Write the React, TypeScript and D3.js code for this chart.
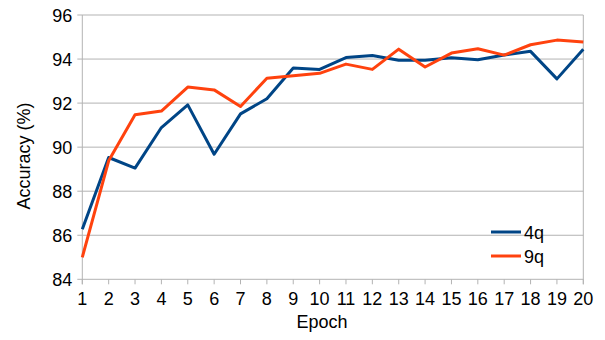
import React, {useEffect, useRef} from "react";
import * as d3 from "d3";

const epochs = [1, 2, 3, 4, 5, 6, 7, 8, 9, 10, 11, 12, 13, 14, 15, 16, 17, 18, 19, 20];
const acc4q = [86.27, 89.53, 89.05, 90.89, 91.92, 89.68, 91.51, 92.2, 93.59, 93.53,
    94.07, 94.16, 93.95, 93.95, 94.06, 93.97, 94.18, 94.35, 93.1, 94.45];
const acc9q = [85.0, 89.38, 91.47, 91.64, 92.73, 92.6, 91.85, 93.13, 93.24, 93.35,
    93.77, 93.53, 94.45, 93.64, 94.27, 94.47, 94.18, 94.65, 94.86, 94.77];
const yTicks = [84, 86, 88, 90, 92, 94, 96];
const seriesNames = ["4q", "9q"];
const seriesColors = ["#004586", "#ff420e"];

const App = () => {
    const ref = useRef<SVGSVGElement>(null);

    useEffect(() => {
        const w = 605;
        const h = 340;
        const m = {left: 82.3, right: 605 - 583.3, top: 15, bottom: 340 - 279.3};
        const font = "'Liberation Sans', Arial, sans-serif";
        const fs = 18;

        const svg = d3.select(ref.current)
            .attr("width", w)
            .attr("height", h);
        svg.selectAll("*").remove();

        const x = d3.scaleLinear().domain([1, 20]).range([m.left, w - m.right]);
        const y = d3.scaleLinear().domain([84, 96]).range([h - m.bottom, m.top]);

        // grid (with small ticks left of the axis)
        svg.append("g")
            .selectAll("line")
            .data(yTicks)
            .join("line")
            .attr("x1", m.left - 5)
            .attr("x2", w - m.right)
            .attr("y1", d => y(d))
            .attr("y2", d => y(d))
            .attr("stroke", "#b3b3b3")
            .attr("stroke-width", 1);

        // frame
        svg.append("line")
            .attr("x1", w - m.right).attr("x2", w - m.right)
            .attr("y1", m.top).attr("y2", h - m.bottom + 5)
            .attr("stroke", "#b3b3b3");
        svg.append("line")
            .attr("x1", m.left).attr("x2", m.left)
            .attr("y1", m.top).attr("y2", h - m.bottom + 5)
            .attr("stroke", "#b3b3b3");

        // x ticks
        svg.append("g")
            .selectAll("line")
            .data(epochs)
            .join("line")
            .attr("x1", d => x(d))
            .attr("x2", d => x(d))
            .attr("y1", h - m.bottom)
            .attr("y2", h - m.bottom + 5)
            .attr("stroke", "#b3b3b3");

        svg.append("g")
            .selectAll("text")
            .data(epochs)
            .join("text")
            .attr("x", d => x(d))
            .attr("y", h - m.bottom + 26)
            .attr("text-anchor", "middle")
            .attr("font-family", font)
            .attr("font-size", fs)
            .attr("fill", "#000")
            .text(d => d);

        svg.append("g")
            .selectAll("text")
            .data(yTicks)
            .join("text")
            .attr("x", m.left - 10)
            .attr("y", d => y(d) + 6.5)
            .attr("text-anchor", "end")
            .attr("font-family", font)
            .attr("font-size", fs)
            .text(d => d);

        // titles
        svg.append("text")
            .attr("x", 322)
            .attr("y", 328)
            .attr("text-anchor", "middle")
            .attr("font-family", font)
            .attr("font-size", fs)
            .text("Epoch");
        svg.append("text")
            .attr("transform", `translate(30, 156) rotate(-90)`)
            .attr("text-anchor", "middle")
            .attr("font-family", font)
            .attr("font-size", fs)
            .text("Accuracy (%)");

        // lines
        const line = d3.line<number>()
            .x((d, i) => x(epochs[i]))
            .y(d => y(d));

        [acc4q, acc9q].forEach((s, k) => {
            svg.append("path")
                .datum(s)
                .attr("d", line)
                .attr("fill", "none")
                .attr("stroke", seriesColors[k])
                .attr("stroke-width", 3)
                .attr("stroke-linejoin", "round");
        });

        // legend
        const lg = svg.append("g").attr("transform", "translate(491, 232)");
        seriesNames.forEach((name, k) => {
            lg.append("line")
                .attr("x1", 0).attr("x2", 30)
                .attr("y1", k * 24).attr("y2", k * 24)
                .attr("stroke", seriesColors[k])
                .attr("stroke-width", 3);
            lg.append("text")
                .attr("x", 33)
                .attr("y", k * 24 + 6.5)
                .attr("font-family", font)
                .attr("font-size", fs)
                .text(name);
        });
    }, []);

    return (
        <svg ref={ref} style={{position: "absolute", left: 0, top: 0, background: "#fff"}}></svg>
    );
};

export default App;
